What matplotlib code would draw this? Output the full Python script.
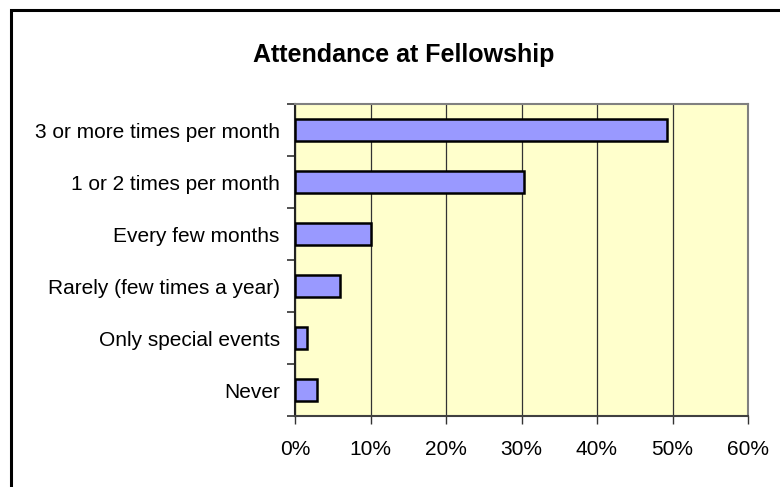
import matplotlib
matplotlib.use('Agg')
import matplotlib.pyplot as plt
from matplotlib.patches import Rectangle
from matplotlib.ticker import FixedLocator

TITLE = 'Attendance at Fellowship'
categories = ['3 or more times per month', '1 or 2 times per month',
              'Every few months', 'Rarely (few times a year)',
              'Only special events', 'Never']
percent = [49.3, 30.3, 10.0, 5.9, 1.6, 2.9]
x_ticks = [0, 10, 20, 30, 40, 50, 60]

plt.rcParams.update({'font.family': ['Liberation Sans', 'DejaVu Sans'],
                     'font.size': 15})

W, H = 780, 487
fig = plt.figure(figsize=(W / 100, H / 100), dpi=100)
fig.patch.set_facecolor('white')

# chart border (runs off the right and bottom edges)
fig.patches.append(Rectangle((11 / W, -0.05), 1.0, 1 - 10 / H + 0.05,
                             transform=fig.transFigure, fill=False,
                             edgecolor='black', linewidth=2.2))

ax = fig.add_axes([295 / W, (H - 416) / H, 453 / W, 312 / H])
ax.set_facecolor('#FFFFCC')

n = len(categories)
ypos = [n - 1 - i for i in range(n)]
ax.barh(ypos, percent, height=0.42, color='#9999FF', edgecolor='black',
        linewidth=1.8, zorder=3)

ax.set_xlim(0, 60)
ax.set_ylim(-0.5, n - 0.5)
ax.set_xticks(x_ticks)
ax.set_xticklabels(['%d%%' % v for v in x_ticks])
ax.xaxis.grid(True, color='#333333', linewidth=0.9, zorder=1)
ax.set_axisbelow(True)

ax.set_yticks(ypos)
ax.set_yticklabels(categories)
ax.tick_params(axis='y', which='major', length=0, pad=11)
ax.yaxis.set_minor_locator(FixedLocator([i - 0.5 for i in range(n + 1)]))
ax.tick_params(axis='y', which='minor', length=6, width=1.2, color='#333333',
               direction='out')
ax.tick_params(axis='x', length=6, width=1.0, color='#333333', pad=11,
               direction='out')

for side in ['top', 'right']:
    ax.spines[side].set_color('#808080')
    ax.spines[side].set_linewidth(1.5)
ax.spines['left'].set_color('#222222')
ax.spines['left'].set_linewidth(1.5)
ax.spines['bottom'].set_color('#404040')
ax.spines['bottom'].set_linewidth(1.5)

fig.text(404 / W, 1 - 55 / H, TITLE, ha='center', va='center',
         fontsize=18, fontweight='bold')

fig.savefig('out.png', dpi=100)
